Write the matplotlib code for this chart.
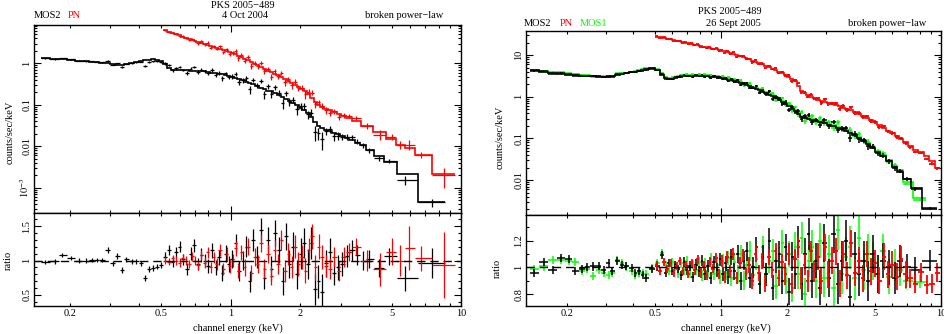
import numpy as np
import matplotlib
matplotlib.use('Agg')
import matplotlib.pyplot as plt
from matplotlib.ticker import FixedLocator, FuncFormatter, LogLocator, MultipleLocator, NullFormatter

plt.rcParams['font.family'] = ['Liberation Serif', 'DejaVu Serif']
plt.rcParams['mathtext.fontset'] = 'stix'
plt.rcParams['font.size'] = 7.5

RED = '#ff0000'
GREEN = '#00ff00'

# ---------------- 4 Oct 2004 : MOS2 (black) ----------------
l_mos2_e = [0.157, 0.172, 0.186, 0.202, 0.219, 0.235, 0.25, 0.262, 0.275, 0.292, 0.308,
            0.322, 0.337, 0.352, 0.372, 0.39, 0.408, 0.425, 0.442, 0.46, 0.478, 0.5,
            0.52, 0.54, 0.56, 0.58, 0.6, 0.62, 0.645, 0.67, 0.695, 0.72, 0.745, 0.77, 0.8,
            0.83, 0.86, 0.89, 0.92, 0.95, 0.98, 1.01, 1.05, 1.09, 1.13, 1.17, 1.21, 1.25,
            1.3, 1.35, 1.4, 1.45, 1.5, 1.56, 1.62, 1.68, 1.74, 1.8, 1.87, 1.94, 2.01, 2.08,
            2.16, 2.24, 2.32, 2.4, 2.5,
            2.6, 2.7, 2.8, 2.92, 3.05, 3.2, 3.35, 3.55, 3.75, 3.97, 4.4, 4.85, 5.7, 7.45]
l_mos2_model = [1.34, 1.29, 1.24, 1.20, 1.16, 1.13, 1.10, 1.07, 1.04, 1.00, 0.96,
                0.93, 0.93, 0.96, 1.02, 1.08, 1.13, 1.18, 1.23, 1.25, 1.22, 1.15,
                0.95, 0.78, 0.69, 0.68, 0.68, 0.68, 0.68, 0.67, 0.67, 0.66, 0.65, 0.64, 0.62,
                0.6, 0.58, 0.56, 0.54, 0.52, 0.5, 0.48, 0.45, 0.42, 0.39, 0.36, 0.34, 0.31,
                0.28, 0.26, 0.24, 0.22, 0.21, 0.19, 0.17, 0.155, 0.14, 0.125, 0.11, 0.097, 0.085, 0.074,
                0.062, 0.052, 0.038, 0.030, 0.027,
                0.024, 0.023, 0.021, 0.020, 0.018, 0.016, 0.0145, 0.012, 0.0107, 0.0079, 0.0057, 0.0041, 0.0021, 0.00046]
l_mos2_ratio = [0.976, 0.986, 1.082, 1.034, 1.0, 1.0, 1.01, 1.01, 1.01, 1.155, 0.961,
                1.068, 0.865, 1.019, 0.986, 0.986, 0.961, 0.744, 0.874, 0.889, 0.913, 0.937,
                1.05, 1.15, 0.98, 1.12, 1.2, 1.02, 0.88, 1.1, 1.22, 0.95, 1.08, 1.0, 0.92,
                1.15, 0.9, 1.05, 0.82, 1.1, 0.95, 1.02, 1.25, 0.85, 1.0, 1.2, 0.7, 1.3,
                1.05, 1.45, 0.75, 1.3, 0.88, 1.4, 1.15, 0.7, 1.35, 0.95, 1.2, 0.8, 1.1, 1.25,
                0.95, 1.25, 0.58, 0.7, 0.55,
                0.96, 1.13, 0.82, 0.9, 0.95, 1.06, 1.15, 1.08, 1.0, 1.02, 0.89, 1.06, 0.745, 0.96]
l_mos2_err = [0.03, 0.03, 0.03, 0.03, 0.03, 0.03, 0.03, 0.03, 0.03, 0.04, 0.035,
              0.04, 0.04, 0.035, 0.035, 0.035, 0.035, 0.04, 0.04, 0.04, 0.04, 0.04,
              0.07, 0.07, 0.08, 0.08, 0.08, 0.08, 0.09, 0.09, 0.09, 0.09, 0.1, 0.1, 0.1,
              0.11, 0.11, 0.11, 0.12, 0.12, 0.12, 0.13, 0.13, 0.14, 0.14, 0.15, 0.15, 0.16,
              0.16, 0.17, 0.17, 0.18, 0.18, 0.19, 0.19, 0.2, 0.2, 0.2, 0.21, 0.21, 0.22, 0.22,
              0.22, 0.23, 0.23, 0.24, 0.25,
              0.2, 0.2, 0.18, 0.18, 0.17, 0.16, 0.15, 0.15, 0.14, 0.13, 0.13, 0.12, 0.18, 0.22]

# ---------------- 4 Oct 2004 : PN (red) ----------------
l_pn_e = [0.52, 0.54, 0.56, 0.58, 0.6, 0.62, 0.64, 0.66, 0.68, 0.7,
          0.72, 0.745, 0.77, 0.795, 0.82, 0.845, 0.87, 0.9, 0.93, 0.96,
          0.99, 1.02, 1.05, 1.08, 1.11, 1.15, 1.19, 1.23, 1.27, 1.31,
          1.35, 1.4, 1.45, 1.5, 1.55, 1.6, 1.66, 1.72, 1.78, 1.84,
          1.9, 1.97, 2.04, 2.11, 2.18, 2.25, 2.33, 2.41, 2.5, 2.6,
          2.7, 2.82, 2.95, 3.1, 3.25, 3.5, 3.9, 4.45, 5.0, 5.45, 5.95, 6.7, 8.4]
l_pn_model = [6.2, 5.7, 5.35, 5.0, 4.7, 4.4, 4.15, 3.9, 3.7, 3.5,
              3.3, 3.12, 2.95, 2.8, 2.65, 2.5, 2.37, 2.23, 2.1, 1.98,
              1.87, 1.77, 1.67, 1.54, 1.42, 1.29, 1.17, 1.06, 0.97, 0.89,
              0.82, 0.74, 0.67, 0.61, 0.56, 0.51, 0.46, 0.41, 0.37, 0.33,
              0.3, 0.27, 0.24, 0.21, 0.18, 0.145, 0.115, 0.097, 0.088, 0.08,
              0.073, 0.067, 0.06, 0.054, 0.048, 0.04, 0.031, 0.022, 0.015, 0.011, 0.0092, 0.006, 0.0021]
l_pn_ratio = [1.0, 0.98, 1.03, 1.0, 0.97, 1.04, 1.0, 0.95, 1.06, 1.0,
              0.93, 1.08, 0.97, 1.12, 0.9, 1.05, 0.95, 1.15, 0.88, 1.1,
              0.92, 1.0, 1.18, 0.85, 1.12, 0.9, 1.2, 0.82, 1.05, 0.95,
              1.25, 0.88, 1.1, 0.78, 1.15, 0.95, 1.3, 0.85, 1.1, 0.9,
              1.2, 0.95, 1.05, 0.85, 1.15, 1.35, 0.9, 1.2, 1.05, 0.92,
              0.88, 1.05, 0.85, 1.05, 1.13, 1.2, 1.0, 0.87, 1.13, 1.0, 1.18, 1.03, 0.94]
l_pn_err = [0.05, 0.05, 0.05, 0.06, 0.06, 0.06, 0.06, 0.06, 0.07, 0.07,
            0.07, 0.07, 0.08, 0.08, 0.08, 0.08, 0.09, 0.09, 0.09, 0.1,
            0.1, 0.1, 0.11, 0.11, 0.11, 0.12, 0.12, 0.12, 0.13, 0.13,
            0.13, 0.14, 0.14, 0.14, 0.15, 0.15, 0.15, 0.16, 0.16, 0.16,
            0.17, 0.17, 0.17, 0.18, 0.18, 0.18, 0.18, 0.18, 0.17, 0.16,
            0.15, 0.15, 0.14, 0.14, 0.13, 0.12, 0.15, 0.24, 0.2, 0.22, 0.32, 0.18, 0.48]

# ---------------- 26 Sept 2005 : MOS2 (black) and MOS1 (green) ----------------
r_mos_e = [0.142, 0.157, 0.172, 0.187, 0.203, 0.218, 0.234, 0.246, 0.262, 0.278,
           0.293, 0.309, 0.32, 0.337, 0.355, 0.371, 0.394, 0.408, 0.425, 0.44,
           0.458, 0.486, 0.512, 0.54,
           0.56, 0.58, 0.6, 0.62, 0.64, 0.66, 0.68, 0.7, 0.72, 0.745,
           0.77, 0.795, 0.82, 0.845, 0.87, 0.9, 0.93, 0.96, 0.99, 1.02,
           1.05, 1.08, 1.11, 1.15, 1.19, 1.23, 1.27, 1.31, 1.35, 1.4,
           1.45, 1.5, 1.55, 1.6, 1.66, 1.72, 1.78, 1.84, 1.9, 1.97,
           2.04, 2.11, 2.18, 2.25, 2.33, 2.41, 2.5, 2.6, 2.7, 2.82,
           2.95, 3.1, 3.25, 3.4, 3.55, 3.7, 3.87, 4.05, 4.25, 4.45,
           4.65, 4.9, 5.15, 5.45, 5.8, 6.15, 6.5]
r_mos_err = [0.03, 0.03, 0.03, 0.03, 0.03, 0.03, 0.03, 0.03, 0.03, 0.03,
             0.03, 0.03, 0.03, 0.03, 0.03, 0.03, 0.03, 0.03, 0.03, 0.03,
             0.03, 0.03, 0.03, 0.03,
             0.03, 0.03, 0.03, 0.03, 0.03, 0.035, 0.035, 0.035, 0.035, 0.035,
             0.04, 0.04, 0.04, 0.04, 0.045, 0.045, 0.045, 0.05, 0.05, 0.05,
             0.055, 0.055, 0.06, 0.06, 0.065, 0.065, 0.07, 0.07, 0.075, 0.075,
             0.08, 0.08, 0.085, 0.085, 0.09, 0.09, 0.095, 0.095, 0.1, 0.1,
             0.1, 0.11, 0.11, 0.11, 0.12, 0.12, 0.12, 0.13, 0.13, 0.13,
             0.14, 0.14, 0.14, 0.15, 0.15, 0.15, 0.16, 0.16, 0.16, 0.15,
             0.15, 0.14, 0.14, 0.13, 0.13, 0.12, 0.12]

r_mos2_tail_e = [7.0, 7.6, 8.9]
r_mos2_model = [4.3, 4.0, 3.65, 3.5, 3.4, 3.3, 3.22, 3.15, 3.1, 3.05,
                3.02, 3.05, 3.1, 3.3, 3.5, 3.65, 3.85, 4.0, 4.25, 4.5,
                4.75, 4.8, 4.3, 3.3,
                2.8, 2.65, 2.7, 2.9, 3.05, 3.12, 3.15, 3.17, 3.2, 3.2,
                3.2, 3.2, 3.18, 3.15, 3.1, 3.05, 3.0, 2.95, 2.88, 2.8,
                2.7, 2.6, 2.5, 2.38, 2.25, 2.12, 2.0, 1.9, 1.8, 1.65,
                1.55, 1.42, 1.32, 1.22, 1.12, 1.03, 0.94, 0.84, 0.75, 0.67,
                0.6, 0.52, 0.46, 0.38, 0.33, 0.31, 0.295, 0.28, 0.265, 0.25,
                0.235, 0.215, 0.2, 0.18, 0.165, 0.148, 0.133, 0.118, 0.1, 0.085,
                0.072, 0.058, 0.047, 0.037, 0.028, 0.021, 0.016,
                0.0107, 0.0063, 0.002]
r_mos2_ratio = [0.958, 1.037, 0.983, 1.07, 1.062, 0.975, 0.988, 1.0, 1.007, 1.012,
                0.983, 1.032, 0.97, 1.045, 1.02, 1.012, 0.995, 0.958, 0.97, 0.945,
                0.92, 0.988, 1.007, 1.095,
                0.96, 1.03, 0.97, 1.02, 0.99, 0.94, 1.04, 0.98, 1.01, 0.93,
                1.02, 0.97, 1.05, 0.95, 1.01, 0.92, 1.04, 0.98, 1.06, 0.95,
                1.03, 0.93, 1.08, 0.97, 1.1, 0.9, 1.05, 1.12, 0.92, 1.0,
                1.15, 0.88, 1.08, 0.95, 1.2, 0.85, 1.05, 1.1, 0.9, 1.15,
                0.82, 1.08, 0.95, 1.2, 0.88, 1.1, 1.25, 0.9, 1.05, 0.85,
                1.18, 0.92, 1.25, 0.88, 1.05, 1.2, 0.78, 1.1, 0.95, 1.05,
                0.9, 1.1, 0.95, 1.05, 1.0, 0.92, 1.05,
                1.0, 0.98, 1.05]
r_mos2_tail_err = [0.1, 0.1, 0.08]

r_mos1_tail_e = [6.95, 8.0]
r_mos1_model = [4.45, 4.2, 3.8, 3.65, 3.55, 3.45, 3.35, 3.28, 3.22, 3.17,
                3.14, 3.17, 3.22, 3.43, 3.64, 3.8, 4.0, 4.16, 4.42, 4.68,
                4.94, 5.0, 4.5, 3.45,
                2.95, 2.8, 2.85, 3.05, 3.22, 3.3, 3.33, 3.35, 3.38, 3.38,
                3.38, 3.38, 3.36, 3.33, 3.28, 3.22, 3.17, 3.12, 3.04, 2.96,
                2.86, 2.75, 2.64, 2.52, 2.38, 2.24, 2.12, 2.01, 1.9, 1.75,
                1.64, 1.5, 1.4, 1.29, 1.18, 1.09, 0.99, 0.89, 0.79, 0.71,
                0.63, 0.55, 0.49, 0.4, 0.35, 0.33, 0.31, 0.295, 0.28, 0.265,
                0.25, 0.228, 0.212, 0.19, 0.175, 0.157, 0.141, 0.125, 0.106, 0.09,
                0.076, 0.062, 0.05, 0.039, 0.03, 0.022, 0.017,
                0.0091, 0.0037]
r_mos1_ratio = [0.99, 1.007, 1.057, 1.057, 1.045, 1.037, 0.97, 0.988, 0.933, 0.983,
                0.958, 0.945, 0.96, 1.057, 1.032, 1.007, 0.97, 0.945, 0.958, 0.958,
                0.95, 0.995, 1.03, 1.107,
                1.02, 0.97, 1.04, 1.0, 0.95, 1.03, 0.98, 1.05, 0.96, 1.02,
                0.98, 1.04, 0.94, 1.03, 0.97, 1.06, 0.95, 1.02, 0.93, 1.05,
                0.96, 1.07, 0.92, 1.04, 0.95, 1.1, 0.9, 1.02, 1.12, 0.94,
                1.06, 0.88, 1.15, 0.95, 1.05, 1.12, 0.86, 1.0, 1.18, 0.9,
                1.1, 0.85, 1.15, 0.95, 1.22, 0.8, 1.05, 1.15, 0.9, 1.2,
                0.92, 1.1, 0.85, 1.28, 0.95, 1.08, 1.15, 0.92, 1.22, 0.98,
                1.1, 1.05, 0.95, 1.12, 0.93, 1.02, 0.98,
                0.9, 0.895]
r_mos1_tail_err = [0.06, 0.05]

# ---------------- 26 Sept 2005 : PN (red) ----------------
r_pn_e = [0.51, 0.53, 0.55, 0.57, 0.59, 0.61, 0.63, 0.65, 0.67, 0.69, 0.71,
          0.735, 0.76, 0.785, 0.81, 0.835, 0.86, 0.89, 0.92, 0.95, 0.98,
          1.01, 1.04, 1.07, 1.1, 1.14, 1.18, 1.22, 1.26, 1.3,
          1.34, 1.39, 1.44, 1.49, 1.54, 1.59, 1.65, 1.71, 1.77, 1.83, 1.89,
          1.96, 2.03, 2.1, 2.17, 2.24, 2.32, 2.4, 2.48, 2.57, 2.66,
          2.76, 2.86, 2.97, 3.08, 3.2, 3.33, 3.46, 3.6, 3.75, 3.9, 4.06,
          4.23, 4.4, 4.6, 4.8, 5.0, 5.25, 5.5, 5.75, 6.0, 6.3, 6.6, 6.9,
          7.25, 7.65, 8.1, 8.6, 9.1, 9.6]
r_pn_model = [28.0, 26.8, 25.7, 24.7, 23.8, 22.9, 22.1, 21.3, 20.6, 19.9, 19.2,
              18.5, 17.8, 17.1, 16.5, 15.9, 15.4, 14.8, 14.2, 13.7, 13.3,
              12.9, 12.4, 11.8, 11.2, 10.6, 10.0, 9.4, 8.9, 8.4,
              7.9, 7.4, 6.9, 6.4, 6.0, 5.6, 5.1, 4.7, 4.35, 4.0, 3.7,
              3.35, 3.0, 2.7, 2.35, 1.85, 1.4, 1.25, 1.12, 1.0, 0.93,
              0.86, 0.8, 0.75, 0.71, 0.67, 0.63, 0.59, 0.55, 0.51, 0.47, 0.43,
              0.39, 0.35, 0.31, 0.275, 0.245, 0.21, 0.18, 0.155, 0.135, 0.115, 0.095, 0.08,
              0.066, 0.054, 0.046, 0.037, 0.028, 0.02]
r_pn_ratio = [1.02, 0.97, 1.04, 0.99, 1.03, 0.96, 1.01, 1.05, 0.97, 1.02, 0.95,
              1.03, 0.98, 1.06, 0.96, 1.01, 0.94, 1.04, 0.99, 1.07, 0.95,
              1.05, 0.93, 1.08, 0.97, 1.1, 0.92, 1.03, 1.09, 0.95,
              1.02, 0.9, 1.1, 0.96, 1.05, 0.88, 1.08, 0.98, 1.12, 0.92, 1.04,
              0.95, 1.1, 0.88, 1.06, 1.15, 0.92, 1.02, 0.9, 1.12, 0.97,
              1.08, 0.9, 1.15, 0.95, 1.05, 1.12, 0.88, 1.1, 0.94, 1.18, 0.96,
              1.05, 0.92, 1.1, 0.97, 1.03, 0.9, 1.08, 0.95, 1.02, 0.93, 1.06, 0.95,
              0.92, 0.88, 0.965, 0.87, 0.88, 0.96]
r_pn_err = [0.03, 0.03, 0.03, 0.03, 0.03, 0.03, 0.03, 0.03, 0.03, 0.03, 0.03,
            0.035, 0.035, 0.035, 0.035, 0.035, 0.035, 0.035, 0.035, 0.035, 0.035,
            0.045, 0.045, 0.045, 0.045, 0.045, 0.045, 0.045, 0.045, 0.045,
            0.06, 0.06, 0.06, 0.06, 0.06, 0.06, 0.06, 0.06, 0.06, 0.06, 0.06,
            0.08, 0.08, 0.08, 0.08, 0.08, 0.08, 0.08, 0.08, 0.08, 0.08,
            0.1, 0.1, 0.1, 0.1, 0.1, 0.1, 0.1, 0.1, 0.1, 0.1, 0.1,
            0.1, 0.1, 0.1, 0.1, 0.1, 0.1, 0.1, 0.1, 0.1, 0.1, 0.1, 0.1,
            0.07, 0.07, 0.07, 0.07, 0.07, 0.07]


def bin_edges(e):
    e = np.asarray(e, float)
    mid = np.sqrt(e[1:] * e[:-1])
    return np.concatenate([[e[0] ** 2 / mid[0]], mid, [e[-1] ** 2 / mid[-1]]])


def draw(ax_top, ax_rat, e, model, ratio, err, color, z, lw=0.9):
    e = np.asarray(e, float)
    model = np.asarray(model, float)
    ratio = np.asarray(ratio, float)
    err = np.asarray(err, float)
    ed = bin_edges(e)
    xerr = [e - ed[:-1], ed[1:] - e]
    ax_top.errorbar(e, model * ratio, xerr=xerr, yerr=model * err, fmt='none',
                    ecolor=color, elinewidth=lw, zorder=z)
    ax_top.stairs(model, ed, baseline=None, color=color, lw=1.2, zorder=z + 0.5)
    ax_rat.errorbar(e, ratio, xerr=xerr, yerr=err, fmt='none',
                    ecolor=color, elinewidth=lw, zorder=z)


def px(x, y):
    return x / 945, 1 - y / 334


def energy_ticks(ax, labels):
    ax.set_xscale('log')
    ax.xaxis.set_major_locator(FixedLocator([1, 10]))
    ax.xaxis.set_minor_locator(FixedLocator([0.2, 0.3, 0.4, 0.5, 0.6, 0.7, 0.8, 0.9,
                                             2, 3, 4, 5, 6, 7, 8, 9]))
    if labels:
        ax.xaxis.set_major_formatter(FuncFormatter(lambda v, p: '%g' % v))
        ax.xaxis.set_minor_formatter(FuncFormatter(
            lambda v, p: '%g' % v if round(v, 3) in (0.2, 0.5, 2, 5) else ''))
    else:
        ax.xaxis.set_major_formatter(NullFormatter())
        ax.xaxis.set_minor_formatter(NullFormatter())


def style(ax):
    for sp in ax.spines.values():
        sp.set_linewidth(1.0)
    ax.tick_params(which='both', direction='in', top=True, right=True, width=0.8, pad=2)
    ax.tick_params(which='major', length=5)
    ax.tick_params(which='minor', length=2.5)
    ax.tick_params(axis='y', labelrotation=90)
    for lab in ax.get_yticklabels():
        lab.set_verticalalignment('center')


def log_labels(v, p):
    if v >= 1:
        return '%d' % round(v)
    if v >= 0.01:
        return '%g' % v
    return r'$10^{%d}$' % round(np.log10(v))


fig = plt.figure(figsize=(9.45, 3.34), dpi=100)

axL = fig.add_axes([34 / 945, (334 - 213) / 334, 427 / 945, 188 / 334])
axLr = fig.add_axes([34 / 945, (334 - 306) / 334, 427 / 945, 93 / 334])
axR = fig.add_axes([526 / 945, (334 - 215) / 334, 415 / 945, 184 / 334])
axRr = fig.add_axes([526 / 945, (334 - 306) / 334, 415 / 945, 91 / 334])

draw(axL, axLr, l_mos2_e, l_mos2_model, l_mos2_ratio, l_mos2_err, 'black', 2)
draw(axL, axLr, l_pn_e, l_pn_model, l_pn_ratio, l_pn_err, RED, 3)

draw(axR, axRr, r_mos_e + r_mos1_tail_e, r_mos1_model, r_mos1_ratio,
     r_mos_err + r_mos1_tail_err, GREEN, 2, lw=1.1)
draw(axR, axRr, r_mos_e + r_mos2_tail_e, r_mos2_model, r_mos2_ratio,
     r_mos_err + r_mos2_tail_err, 'black', 3, lw=1.1)
draw(axR, axRr, r_pn_e, r_pn_model, r_pn_ratio, r_pn_err, RED, 4, lw=1.3)

for ax in (axLr, axRr):
    ax.axhline(1.0, color='black', lw=1.0, dashes=(6, 3.5), zorder=6)

axL.set_xlim(0.14, 10)
axLr.set_xlim(0.14, 10)
axR.set_xlim(0.13, 10)
axRr.set_xlim(0.13, 10)

axL.set_yscale('log')
axL.set_ylim(2.45e-4, 8.4)
axR.set_yscale('log')
axR.set_ylim(1.45e-3, 38)
for ax in (axL, axR):
    ax.yaxis.set_major_locator(LogLocator(base=10, numticks=20))
    ax.yaxis.set_minor_locator(LogLocator(base=10, subs=np.arange(2, 10), numticks=20))
    ax.yaxis.set_major_formatter(FuncFormatter(log_labels))
    ax.yaxis.set_minor_formatter(NullFormatter())

axLr.set_ylim(0.34, 1.69)
axLr.yaxis.set_major_locator(FixedLocator([0.5, 1.0, 1.5]))
axLr.yaxis.set_minor_locator(MultipleLocator(0.1))
axLr.yaxis.set_major_formatter(FuncFormatter(lambda v, p: '%g' % v))
axRr.set_ylim(0.713, 1.39)
axRr.yaxis.set_major_locator(FixedLocator([0.8, 1.0, 1.2]))
axRr.yaxis.set_minor_locator(MultipleLocator(0.1))
axRr.yaxis.set_major_formatter(FuncFormatter(lambda v, p: '%g' % v))

energy_ticks(axL, False)
energy_ticks(axR, False)
energy_ticks(axLr, True)
energy_ticks(axRr, True)
for ax in (axL, axLr, axR, axRr):
    style(ax)

# header texts
fig.text(*px(243, 5), 'PKS 2005\u2212489', ha='center', va='center')
fig.text(*px(245, 16), '4 Oct 2004', ha='center', va='center')
fig.text(*px(34, 16), 'MOS2', ha='left', va='center')
fig.text(*px(68, 16), 'PN', ha='left', va='center', color=RED)
fig.text(*px(443, 16), 'broken power\u2212law', ha='right', va='center')

fig.text(*px(730, 11), 'PKS 2005\u2212489', ha='center', va='center')
fig.text(*px(733, 24), '26 Sept 2005', ha='center', va='center')
fig.text(*px(524, 24), 'MOS2', ha='left', va='center')
fig.text(*px(560, 24), 'PN', ha='left', va='center', color=RED)
fig.text(*px(580, 24), 'MOS1', ha='left', va='center', color=GREEN)
fig.text(*px(926, 24), 'broken power\u2212law', ha='right', va='center')

# axis labels
fig.text(*px(10, 132), 'counts/sec/keV', rotation=90, ha='center', va='center')
fig.text(*px(500, 137), 'counts/sec/keV', rotation=90, ha='center', va='center')
fig.text(*px(8, 260), 'ratio', rotation=90, ha='center', va='center')
fig.text(*px(497, 268), 'ratio', rotation=90, ha='center', va='center')
fig.text(*px(238, 328), 'channel energy (keV)', ha='center', va='center')
fig.text(*px(726, 328), 'channel energy (keV)', ha='center', va='center')

fig.savefig('out.png', dpi=100)
